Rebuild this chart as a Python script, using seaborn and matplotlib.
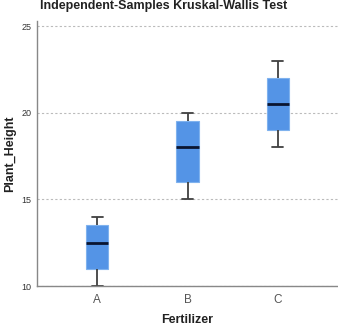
import matplotlib
matplotlib.use("Agg")
import matplotlib.pyplot as plt
import seaborn as sns
import pandas as pd

# Five-number summaries (min, Q1, median, Q3, max)
groups = ["A", "B", "C"]
values_A = [10, 11, 12.5, 13.5, 14]
values_B = [15, 16, 18, 19.5, 20]
values_C = [18, 19, 20.5, 22, 23]
y_ticks = [10, 15, 20, 25]

df = pd.DataFrame({
    "Fertilizer": ["A"] * len(values_A) + ["B"] * len(values_B) + ["C"] * len(values_C),
    "Plant_Height": values_A + values_B + values_C,
})

sns.set_style("white")
plt.rcParams["font.family"] = ["Liberation Sans", "DejaVu Sans"]

fig = plt.figure(figsize=(3.38, 3.28), dpi=100)
ax = fig.add_axes([0.1095, 0.128, 0.8905, 0.8085])

sns.boxplot(
    data=df, x="Fertilizer", y="Plant_Height", order=groups, ax=ax,
    color="#5494E6", width=0.245, whis=1.5, saturation=1,
    boxprops=dict(edgecolor="#7FB2EE", linewidth=0.8),
    medianprops=dict(color="#0A1530", linewidth=2.0),
    whiskerprops=dict(color="#404040", linewidth=1.3),
    capprops=dict(color="#404040", linewidth=1.3),
    capwidths=0.12, showfliers=False,
)

ax.set_xlim(-0.667, 2.667)
ax.set_ylim(10, 25.3)
ax.set_yticks(y_ticks)
ax.set_yticklabels([str(t) for t in y_ticks], fontsize=6.5, color="#333333")
ax.tick_params(axis="x", labelsize=8.5, colors="#555555", length=0, pad=6)
ax.tick_params(axis="y", length=0, pad=4)
ax.set_axisbelow(True)
ax.yaxis.grid(True, linestyle=(0, (2, 2)), color="#BBBBBB", linewidth=0.8)
for s in ["top", "right"]:
    ax.spines[s].set_visible(False)
for s in ["left", "bottom"]:
    ax.spines[s].set_color("#888888")
    ax.spines[s].set_linewidth(1.0)

ax.set_xlabel("Fertilizer", fontsize=9, fontweight="bold", color="#222222")
ax.set_ylabel("Plant_Height", fontsize=9, fontweight="bold", color="#222222")
ax.xaxis.set_label_coords(0.5, -0.128)
ax.yaxis.set_label_coords(-0.09, 0.5)
ax.xaxis.label.set_va("center")
ax.yaxis.label.set_va("center")
fig.text(0.118, 0.982, "Independent-Samples Kruskal-Wallis Test", fontsize=9,
         fontweight="bold", color="#222222", ha="left", va="center")

fig.savefig("out.png", dpi=100)
